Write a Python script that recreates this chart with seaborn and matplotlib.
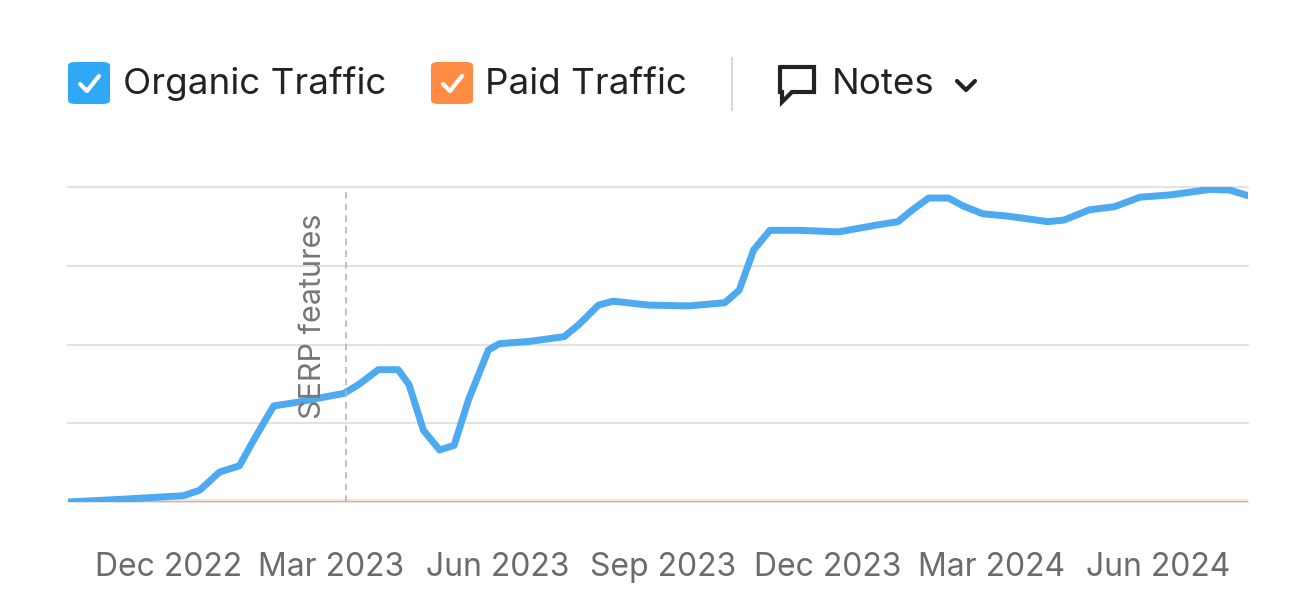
import matplotlib
matplotlib.use("Agg")
import matplotlib.pyplot as plt
import matplotlib.dates as mdates
from matplotlib.patches import FancyBboxPatch
from matplotlib.lines import Line2D
import seaborn as sns
import pandas as pd

dates = [
    "2022-10-06", "2022-11-09", "2022-12-09", "2022-12-18", "2022-12-29",
    "2023-01-09", "2023-01-17", "2023-01-28", "2023-02-11", "2023-03-08",
    "2023-03-16", "2023-03-27", "2023-04-07", "2023-04-13", "2023-04-21",
    "2023-04-30", "2023-05-08", "2023-05-16", "2023-05-27", "2023-06-02",
    "2023-06-19", "2023-07-08", "2023-07-16", "2023-07-27", "2023-08-04",
    "2023-08-24", "2023-09-15", "2023-10-05", "2023-10-13", "2023-10-21",
    "2023-10-30", "2023-11-15", "2023-12-07", "2023-12-29", "2024-01-09",
    "2024-01-17", "2024-01-26", "2024-02-06", "2024-02-14", "2024-02-25",
    "2024-03-10", "2024-04-01", "2024-04-10", "2024-04-24", "2024-05-08",
    "2024-05-22", "2024-06-08", "2024-06-30", "2024-07-11", "2024-07-21",
]
organic = [
    0.00, 0.04, 0.08, 0.15, 0.38, 0.46, 0.79, 1.22, 1.27, 1.38,
    1.49, 1.68, 1.68, 1.49, 0.91, 0.66, 0.72, 1.30, 1.93, 2.01,
    2.04, 2.10, 2.25, 2.50, 2.55, 2.50, 2.49, 2.53, 2.69, 3.20,
    3.45, 3.45, 3.43, 3.52, 3.56, 3.71, 3.86, 3.86, 3.76, 3.66,
    3.63, 3.56, 3.58, 3.71, 3.75, 3.87, 3.90, 3.97, 3.96, 3.89,
]
paid = [0.0] * len(dates)
note_date = "2023-03-09"
note_label = "SERP features"

df = pd.DataFrame({"date": pd.to_datetime(dates), "organic": organic, "paid": paid})

BLUE = "#4DA9F0"
ORANGE = "#FF8C42"

sns.set_theme(style="white")
plt.rcParams["font.family"] = ["Inter", "DejaVu Sans"]
fig = plt.figure(figsize=(12.9, 6.12), dpi=100)
ax = fig.add_axes([68 / 1290, 1 - 502 / 612, (1248 - 68) / 1290, (502 - 187) / 612])

ax.fill_between(df["date"], df["paid"], 0.04, color=ORANGE, alpha=0.25, lw=0)
sns.lineplot(data=df, x="date", y="paid", ax=ax, color=ORANGE, lw=2, alpha=0.6)
sns.lineplot(data=df, x="date", y="organic", ax=ax, color=BLUE, lw=5,
             solid_joinstyle="round", solid_capstyle="round")

nd = pd.Timestamp(note_date)
ax.axvline(nd, color="#b5b5b5", lw=1.2, ls=(0, (4, 3)))
ax.text(nd - pd.Timedelta(days=18), 3.66, note_label, rotation=90, ha="center",
        va="top", fontsize=22, color="#777777")

ax.set_xlim(df["date"].iloc[0], df["date"].iloc[-1])
ax.set_ylim(0, 4)
ax.set_yticks([0, 1, 2, 3, 4])
ax.set_yticklabels([])
ax.yaxis.grid(True, color="#e2e2e2", lw=1.5)
for gl in ax.get_ygridlines():
    gl.set_clip_on(False)
ax.xaxis.grid(False)
for s in ax.spines.values():
    s.set_visible(False)
ax.set_xlabel("")
ax.set_ylabel("")
ax.xaxis.set_major_locator(mdates.MonthLocator(bymonth=[3, 6, 9, 12]))
ax.xaxis.set_major_formatter(mdates.DateFormatter("%b %Y"))
ax.tick_params(axis="x", length=0, pad=36, labelsize=23, labelcolor="#6b6b6b")
ax.tick_params(axis="y", length=0)

# legend header
def fx(px):
    return px / 1290


def fy(py):
    return 1 - py / 612


def checkbox(x0, color):
    fig.patches.append(FancyBboxPatch((fx(x0), fy(104)), fx(42), 42 / 612,
                                      boxstyle="round,pad=0,rounding_size=0.006",
                                      transform=fig.transFigure, fc=color, ec="none"))
    fig.lines.append(Line2D([fx(x0 + 12), fx(x0 + 19), fx(x0 + 31)],
                            [fy(84), fy(91), fy(76)], transform=fig.transFigure,
                            color="white", lw=3, solid_capstyle="round",
                            solid_joinstyle="round"))


checkbox(68, "#2FA8F6")
fig.text(fx(123), fy(84), "Organic Traffic", fontsize=26.5, color="#222222", va="center")
checkbox(431, ORANGE)
fig.text(fx(485), fy(84), "Paid Traffic", fontsize=26.5, color="#222222", va="center")
fig.lines.append(Line2D([fx(732), fx(732)], [fy(58), fy(110)],
                        transform=fig.transFigure, color="#d8d8d8", lw=1.5))
# notes icon
fig.lines.append(Line2D([fx(780), fx(814), fx(814), fx(792), fx(782), fx(782), fx(780), fx(780)],
                        [fy(67), fy(67), fy(92), fy(92), fy(102), fy(92), fy(92), fy(67)],
                        transform=fig.transFigure, color="#222222", lw=3,
                        solid_joinstyle="miter"))
fig.text(fx(832), fy(84), "Notes", fontsize=26.5, color="#222222", va="center")
fig.lines.append(Line2D([fx(957), fx(966), fx(975)], [fy(81), fy(90), fy(81)],
                        transform=fig.transFigure, color="#222222", lw=3,
                        solid_capstyle="round"))

fig.savefig("out.png", dpi=100)
plt.close(fig)
